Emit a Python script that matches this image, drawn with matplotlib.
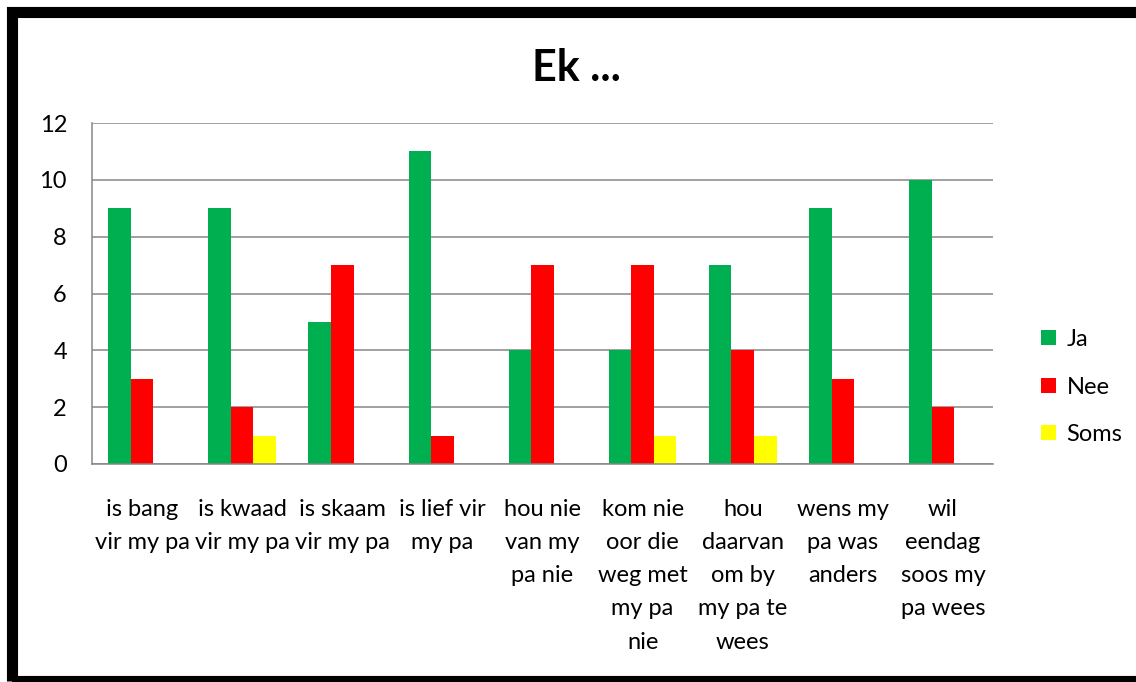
import numpy as np
import matplotlib.pyplot as plt
from matplotlib.patches import Patch, Rectangle

plt.rcParams['font.family'] = ['Lato', 'DejaVu Sans']

categories = ["is bang\nvir my pa", "is kwaad\nvir my pa", "is skaam\nvir my pa",
              "is lief vir\nmy pa", "hou nie\nvan my\npa nie",
              "kom nie\noor die\nweg met\nmy pa\nnie",
              "hou\ndaarvan\nom by\nmy pa te\nwees",
              "wens my\npa was\nanders", "wil\neendag\nsoos my\npa wees"]
ja = [9, 9, 5, 11, 4, 4, 7, 9, 10]
nee = [3, 2, 7, 1, 7, 7, 4, 3, 2]
soms = [0, 1, 0, 0, 0, 1, 1, 0, 0]

series = [("Ja", ja, "#00B050"), ("Nee", nee, "#FF0000"), ("Soms", soms, "#FFFF00")]

fig = plt.figure(figsize=(11.36, 6.82), dpi=100)
ax = fig.add_axes([92/1136, 1-464/682, (993-92)/1136, (464-123)/682])

x = np.arange(len(categories))
w = 0.225
for i, (name, vals, col) in enumerate(series):
    ax.bar(x + (i-1)*w, vals, w, color=col, label=name, zorder=3)

ax.set_xlim(-0.5, len(categories)-0.5)
ax.set_ylim(0, 12)
ax.set_yticks(range(0, 13, 2))
ax.yaxis.grid(True, color="#868686", linewidth=1.1, zorder=0)
ax.set_axisbelow(True)
for s in ["top", "right"]:
    ax.spines[s].set_visible(False)
for s in ["left", "bottom"]:
    ax.spines[s].set_color("#868686")
    ax.spines[s].set_linewidth(1.1)
ax.spines["bottom"].set_zorder(4)

ax.set_xticks(x)
ax.set_xticklabels(categories, fontsize=17, linespacing=1.72, va="top")
ax.tick_params(axis="x", length=0, pad=25)
ax.tick_params(axis="y", length=0, pad=18, labelsize=17)

fig.text(576/1136, 1-68/682, "Ek ...", fontsize=31, fontweight="bold", ha="center", va="center")

handles = [Patch(facecolor=c, label=n) for n, v, c in series]
fig.legend(handles=handles, loc="center left", bbox_to_anchor=(1020/1136, 1-387/682),
           frameon=False, fontsize=17, handlelength=0.62, handleheight=0.62,
           handletextpad=0.45, labelspacing=1.12)

# thick black frame around the chart
fig.patches.append(Rectangle((11.5/1136, 1.5/682), 1.2, (680.5-11.5)/682,
                             transform=fig.transFigure, fill=False,
                             edgecolor="black", linewidth=8, clip_on=False))

fig.savefig("out.png", dpi=100, facecolor="white")
